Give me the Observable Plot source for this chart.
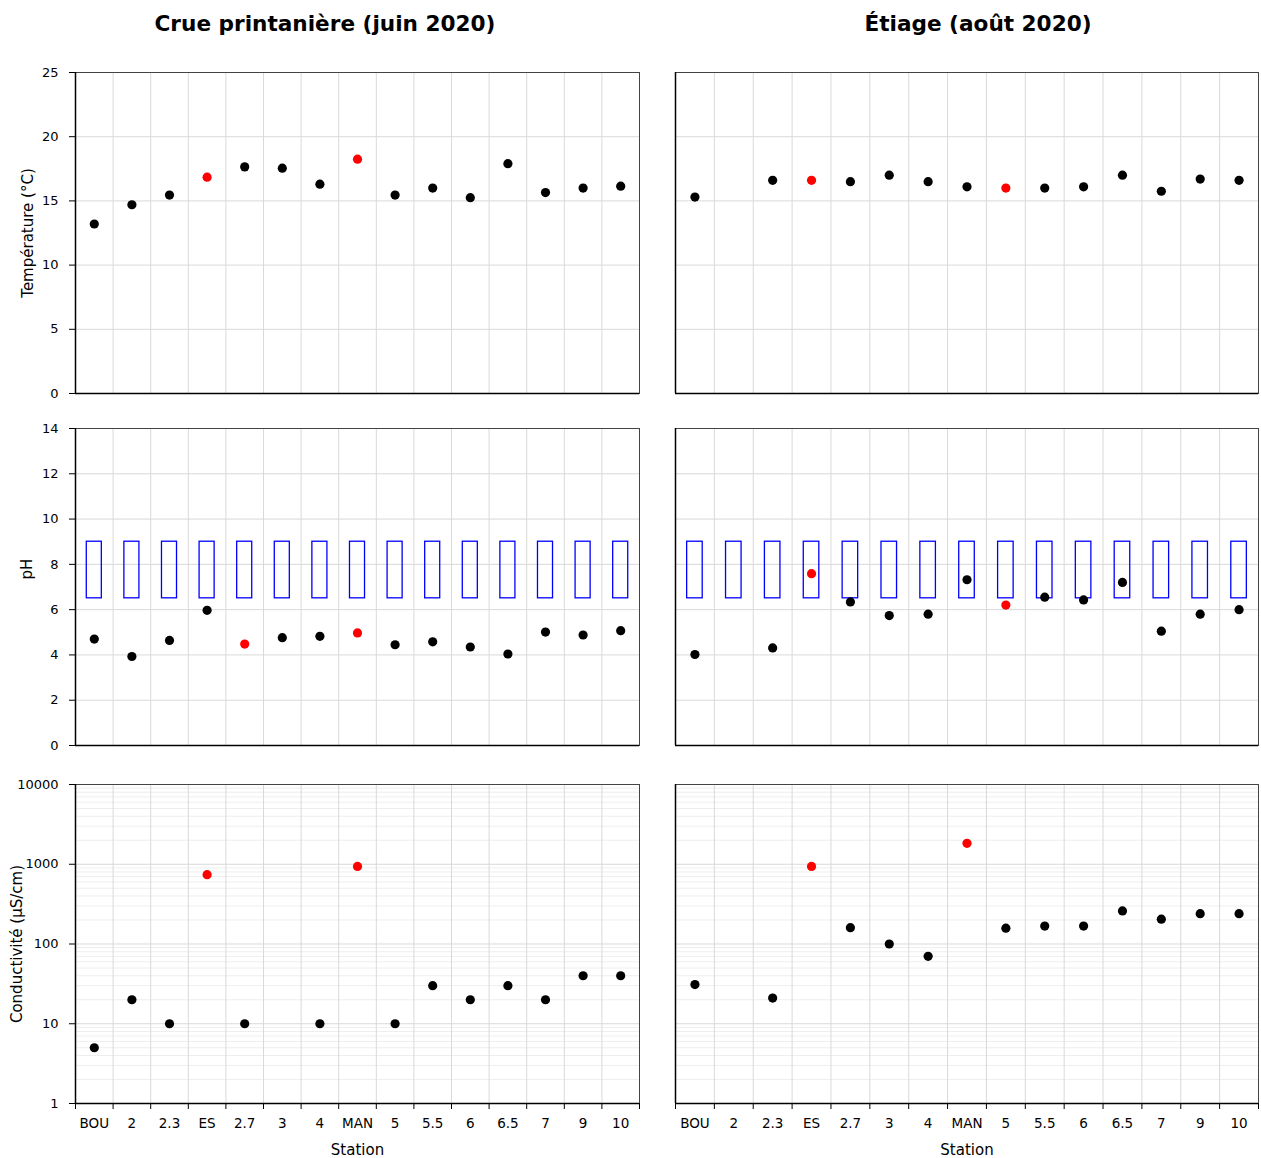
<!DOCTYPE html>
<html><head><meta charset="utf-8">
<script src="https://cdn.jsdelivr.net/npm/d3@7"></script>
<script src="https://cdn.jsdelivr.net/npm/@observablehq/plot@0.6"></script>
<style>
body{margin:0;background:#fff;font-family:"DejaVu Sans",Verdana,sans-serif;}
#wrap{position:relative;width:1261px;height:1158px;overflow:hidden;}
.title{position:absolute;top:11px;font-weight:bold;font-size:21.6px;transform:translateX(-50%);white-space:nowrap;color:#000;}
.panel{position:absolute;}
</style></head><body>
<div id="wrap">
<div class="title" style="left:325px">Crue printanière (juin 2020)</div>
<div class="title" style="left:978px">Étiage (août 2020)</div>
</div>
<script>
// ---- data ----
const stations = ["BOU","2","2.3","ES","2.7","3","4","MAN","5","5.5","6","6.5","7","9","10"];
const tempJune = [13.2,14.7,15.45,16.85,17.65,17.55,16.3,18.25,15.45,16.0,15.25,17.9,15.65,16.0,16.15];
const tempAug  = [15.3,null,16.6,16.6,16.5,17.0,16.5,16.1,16.0,16.0,16.1,17.0,15.75,16.7,16.6];
const phJune   = [4.70,3.93,4.64,5.97,4.48,4.76,4.82,4.97,4.45,4.58,4.35,4.04,5.01,4.88,5.07];
const phAug    = [4.02,null,4.31,7.59,6.34,5.74,5.80,7.32,6.2,6.55,6.43,7.2,5.05,5.8,6.0];
const condJune = [5,20,10,740,10,null,10,940,10,30,20,30,20,40,40];
const condAug  = [31,null,21,940,160,100,70,1830,158,168,168,260,205,240,240];
const redTempJune = ["ES","MAN"];
const redTempAug  = ["ES","5"];
const redPhJune   = ["2.7","MAN"];
const redPhAug    = ["ES","5"];
const redCondJune = ["ES","MAN"];
const redCondAug  = ["ES","MAN"];
const phRange = [6.5, 9];
const tempTicks = [0,5,10,15,20,25];
const phTicks = [0,2,4,6,8,10,12,14];
const condTicks = [1,10,100,1000,10000];
const titles = {temp: "Température (°C)", ph: "pH", cond: "Conductivité (µS/cm)", x: "Station"};

const condMinor = [];
for (let k = 0; k < 4; k++) for (let m = 2; m <= 9; m++) condMinor.push(m * Math.pow(10, k));

function panel(o) {
  const data = stations.map((s, i) => ({s, i, v: o.values[i], red: o.red.includes(s)})).filter(d => d.v != null);
  const marks = [];
  if (o.minor) marks.push(Plot.gridY({ticks: o.minor, stroke: "#eeeeee", strokeOpacity: 1}));
  marks.push(Plot.gridY({ticks: o.ticks, stroke: "#d9d9d9", strokeOpacity: 1}));
  marks.push(Plot.gridX({ticks: d3.range(1, stations.length), stroke: "#d9d9d9", strokeOpacity: 1}));
  if (o.ph) marks.push(Plot.rect(stations, {
    x1: (d, i) => i + 0.3, x2: (d, i) => i + 0.7,
    y1: () => phRange[0], y2: () => phRange[1],
    fill: "none", stroke: "#0000ff", strokeWidth: 1.3
  }));
  marks.push(Plot.frame({stroke: "#444"}));
  marks.push(Plot.ruleX([0], {stroke: "#000", strokeWidth: 1.5}));
  marks.push(Plot.ruleY([o.domain[0]], {stroke: "#000", strokeWidth: 1.5}));
  if (o.showY) {
    marks.push(Plot.axisY({ticks: o.ticks, tickSize: 6, tickPadding: 11, tickFormat: d => String(d), fontSize: 13, label: null}));
    marks.push(Plot.text([o.yLabel], {frameAnchor: "left", dx: o.labelDx, dy: o.labelDy || 0, rotate: -90, text: d => d, fontSize: 15, textAnchor: "middle", lineAnchor: "middle"}));
  }
  if (o.showX) {
    marks.push(Plot.axisX({ticks: d3.range(0, stations.length + 1), tickSize: 6, tickFormat: () => "", label: null}));
    marks.push(Plot.axisX({ticks: stations.map((s, i) => i + 0.5), tickFormat: v => stations[Math.round(v - 0.5)], tickSize: 0, tickPadding: 15, fontSize: 13.5, label: null}));
    marks.push(Plot.text([titles.x], {frameAnchor: "bottom", dy: 47, text: d => d, fontSize: 15, lineAnchor: "middle"}));
  }
  marks.push(Plot.dot(data.filter(d => !d.red), {x: d => d.i + 0.5, y: "v", r: 4.6, fill: "#000", stroke: null}));
  marks.push(Plot.dot(data.filter(d => d.red), {x: d => d.i + 0.5, y: "v", r: 4.6, fill: "#ff0000", stroke: null}));

  const svg = Plot.plot({
    width: o.width, height: o.height,
    marginLeft: o.ml, marginRight: o.mr, marginTop: o.mt, marginBottom: o.mb,
    style: {fontFamily: "'DejaVu Sans', Verdana, sans-serif", fontSize: "13px", color: "#000", background: "transparent", overflow: "visible"},
    x: {type: "linear", domain: [0, stations.length], axis: null},
    y: {type: o.type || "linear", domain: o.domain, axis: null},
    marks
  });
  const div = document.createElement("div");
  div.className = "panel";
  div.style.left = o.left + "px";
  div.style.top = o.top + "px";
  div.appendChild(svg);
  document.getElementById("wrap").appendChild(div);
}

const colL = {left: 0, width: 645, ml: 75, mr: 6, showY: true};
const colR = {left: 640, width: 621, ml: 35, mr: 3, showY: false};
const rowT = {top: 60, height: 338, mt: 12, mb: 5, domain: [0, 25], ticks: tempTicks, yLabel: titles.temp, labelDx: -47};
const rowM = {top: 415, height: 335, mt: 13, mb: 5, domain: [0, 14], ticks: phTicks, yLabel: titles.ph, labelDx: -48, labelDy: -18, ph: true};
const rowB = {top: 770, height: 386, mt: 14, mb: 53, domain: [1, 10000], type: "log", ticks: condTicks, minor: condMinor, yLabel: titles.cond, labelDx: -58, showX: true};

panel({...colL, ...rowT, values: tempJune, red: redTempJune});
panel({...colR, ...rowT, values: tempAug, red: redTempAug});
panel({...colL, ...rowM, values: phJune, red: redPhJune});
panel({...colR, ...rowM, values: phAug, red: redPhAug});
panel({...colL, ...rowB, values: condJune, red: redCondJune});
panel({...colR, ...rowB, values: condAug, red: redCondAug});
</script>
</body></html>
